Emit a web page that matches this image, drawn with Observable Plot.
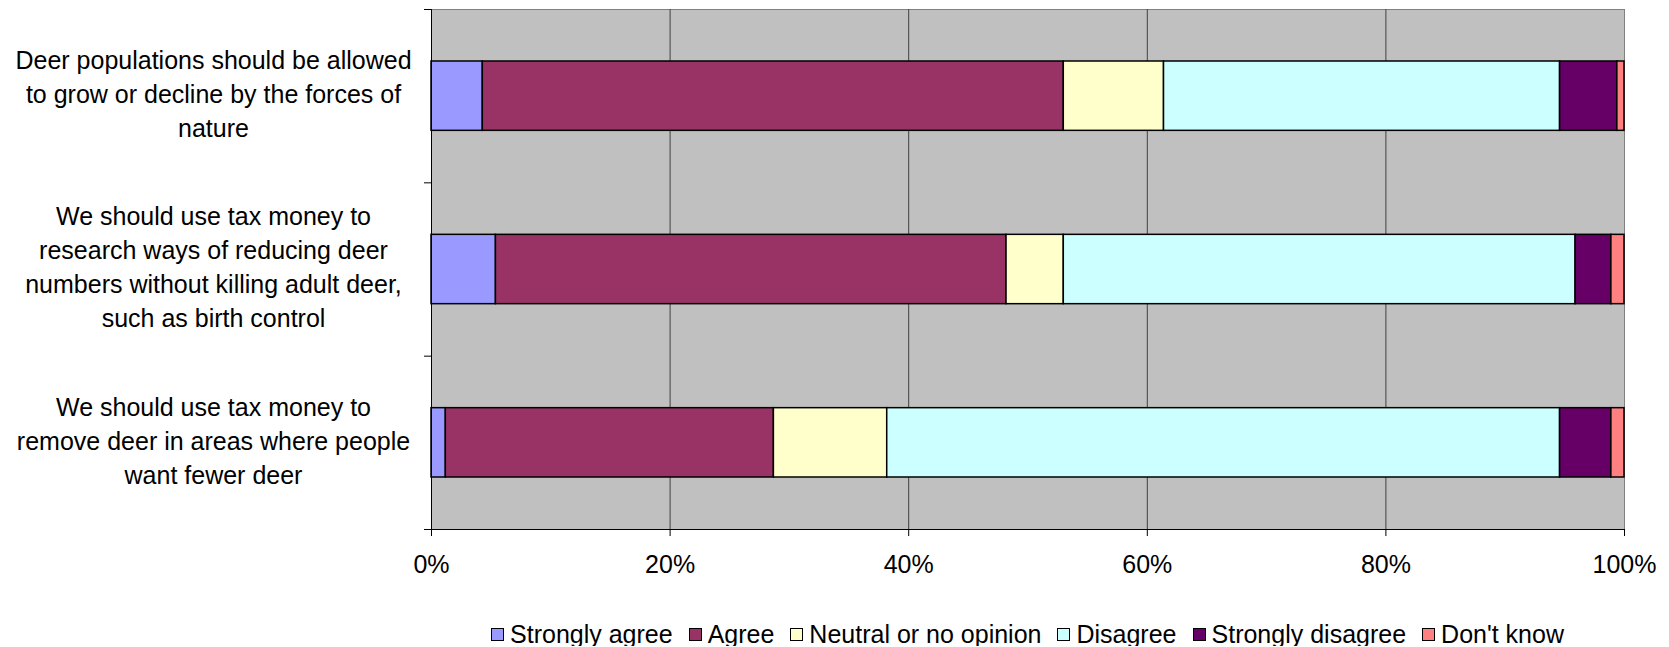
<!DOCTYPE html>
<html><head><meta charset="utf-8">
<script src="https://cdn.jsdelivr.net/npm/d3@7"></script>
<script src="https://cdn.jsdelivr.net/npm/@observablehq/plot@0.6"></script>
<style>
body{margin:0;background:#fff;font-family:"Liberation Sans",Arial,sans-serif;}
#legend{display:flex;justify-content:center;align-items:center;margin-left:431px;width:1193px;padding-top:17px;line-height:24px;font-size:25px;color:#000;white-space:nowrap;}
#legend .item{display:flex;align-items:center;margin:0 8px;}
#legend .sw{width:11px;height:11px;border:1px solid #000;margin-right:6px;}
</style></head><body><div id="chart"></div><div id="legend"></div>
<script>
const statements = [
  "Deer populations should be allowed\nto grow or decline by the forces of\nnature",
  "We should use tax money to\nresearch ways of reducing deer\nnumbers without killing adult deer,\nsuch as birth control",
  "We should use tax money to\nremove deer in areas where people\nwant fewer deer"
];
const responses = ["Strongly agree","Agree","Neutral or no opinion","Disagree","Strongly disagree","Don't know"];
const colors = ["#9999ff","#993366","#ffffcc","#ccffff","#660066","#ff8080"];
const stronglyAgree    = [4.3, 5.4, 1.2];
const agree            = [48.7, 42.8, 27.5];
const neutral          = [8.4, 4.8, 9.5];
const disagree         = [33.2, 42.9, 56.4];
const stronglyDisagree = [4.8, 3.0, 4.3];
const dontKnow         = [0.6, 1.1, 1.1];
const xTicks = [0, 0.2, 0.4, 0.6, 0.8, 1];

const series = [stronglyAgree, agree, neutral, disagree, stronglyDisagree, dontKnow];
const rows = [];
statements.forEach((s, i) => {
  const total = d3.sum(series, v => v[i]);
  let acc = 0;
  series.forEach((v, j) => {
    const x1 = acc / total; acc += v[i]; const x2 = acc / total;
    rows.push({statement: s, idx: i, response: responses[j], x1, x2});
  });
});

const chart = Plot.plot({
  width: 1669, height: 605,
  marginLeft: 431, marginRight: 45, marginTop: 9, marginBottom: 76,
  style: {fontFamily: "'Liberation Sans', Arial, sans-serif", fontSize: "25px", color: "#000", background: "#fff"},
  x: {domain: [0, 1]},
  y: {domain: [0, 3], reverse: true},
  color: {domain: responses, range: colors},
  marks: [
    Plot.frame({fill: "#c0c0c0", stroke: "#808080"}),
    Plot.ruleX(xTicks.slice(1, -1), {stroke: "#404040", strokeWidth: 1}),
    Plot.rectX(rows, {x1: "x1", x2: "x2", y1: d => d.idx + 0.3, y2: d => d.idx + 0.7, fill: "response", stroke: "#000", strokeWidth: 1.5}),
    Plot.ruleX([0], {stroke: "#000"}),
    Plot.ruleY([3], {stroke: "#000"}),
    Plot.axisX({ticks: xTicks, tickFormat: d3.format(".0%"), tickSize: 7, tickPadding: 19, label: null}),
    Plot.axisY({ticks: [0, 1, 2, 3], tickSize: 7, tickFormat: () => "", label: null}),
    Plot.axisY({ticks: [0.5, 1.5, 2.5], tickSize: 0, tickPadding: 0, textAnchor: "middle", dx: -218, dy: -4, lineHeight: 1.36,
      tickFormat: v => statements[Math.floor(v)], label: null})
  ]
});
document.getElementById("chart").appendChild(chart);

const leg = document.getElementById("legend");
responses.forEach((r, j) => {
  const it = document.createElement("div"); it.className = "item";
  const sw = document.createElement("div"); sw.className = "sw"; sw.style.background = colors[j];
  const t = document.createElement("span"); t.textContent = r;
  it.appendChild(sw); it.appendChild(t); leg.appendChild(it);
});
</script></body></html>
